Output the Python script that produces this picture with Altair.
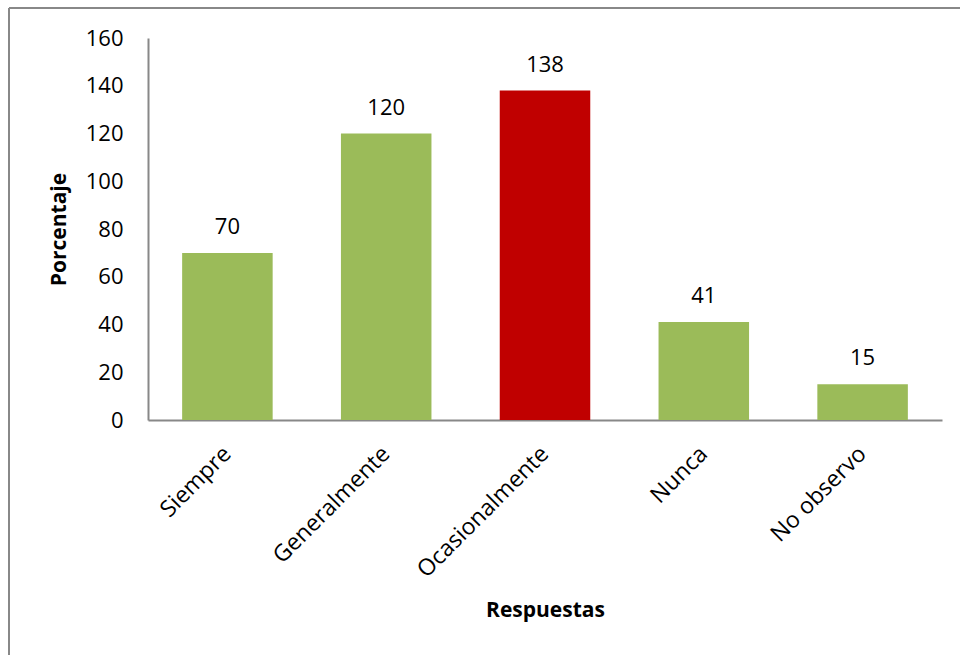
import altair as alt
import pandas as pd

categorias = ["Siempre", "Generalmente", "Ocasionalmente", "Nunca", "No observo"]
valores = [70, 120, 138, 41, 15]
colores = ["#9BBB59", "#9BBB59", "#C00000", "#9BBB59", "#9BBB59"]

df = pd.DataFrame({"Respuestas": categorias, "Porcentaje": valores})

FONT = "Open Sans"

x_enc = alt.X(
    "Respuestas:N",
    sort=categorias,
    scale=alt.Scale(paddingInner=0.43, paddingOuter=0.215),
    axis=alt.Axis(
        title="Respuestas",
        labelAngle=-45,
        labelAlign="right",
        labelBaseline="middle",
        labelPadding=30,
        labelFontSize=23,
        ticks=False,
        tickSize=0,
        titleX=397,
        titleY=196,
        titleAlign="center",
        titleBaseline="alphabetic",
    ),
)
y_enc = alt.Y(
    "Porcentaje:Q",
    scale=alt.Scale(domain=[0, 160], nice=False),
    axis=alt.Axis(
        title="Porcentaje",
        values=[0, 20, 40, 60, 80, 100, 120, 140, 160],
        labelPadding=25,
        ticks=False,
        tickSize=0,
        grid=False,
        titleAngle=-90,
        titleX=-89,
        titleY=191,
        titleAlign="center",
        titleBaseline="middle",
    ),
)

bars = alt.Chart(df).mark_bar().encode(
    x=x_enc,
    y=y_enc,
    color=alt.Color(
        "Respuestas:N",
        scale=alt.Scale(domain=categorias, range=colores),
        legend=None,
    ),
)

labels = alt.Chart(df).mark_text(
    baseline="alphabetic", dy=-19, fontSize=22, font=FONT, color="#000000"
).encode(
    x=alt.X("Respuestas:N", sort=categorias),
    y="Porcentaje:Q",
    text="Porcentaje:Q",
)

borde = pd.DataFrame({"k": [0]})
borde_izq = alt.Chart(borde).mark_rule(color="#888888", strokeWidth=2).encode(
    x=alt.value(-139), y=alt.value(-30), y2=alt.value(700)
)
borde_sup = alt.Chart(borde).mark_rule(color="#888888", strokeWidth=2).encode(
    y=alt.value(-30), x=alt.value(-139), x2=alt.value(900)
)

chart = (
    alt.layer(bars, labels, borde_izq, borde_sup)
    .properties(
        width=794,
        height=382,
        background="white",
        autosize=alt.AutoSizeParams(type="none"),
        padding={"left": 148, "top": 38, "right": 18, "bottom": 235},
    )
    .configure_view(stroke=None)
    .configure_axis(
        domainColor="#888888",
        domainWidth=2,
        labelFont=FONT,
        labelFontSize=22,
        labelColor="#000000",
        titleFont=FONT,
        titleFontSize=21,
        titleFontWeight="bold",
        titleColor="#000000",
        grid=False,
    )
)

chart.save("out.html", embed_options={"renderer": "svg", "actions": False})
